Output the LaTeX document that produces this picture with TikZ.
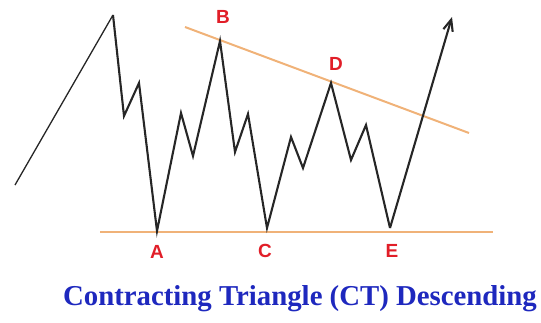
\documentclass[tikz,border=0pt]{standalone}
\usepackage{fontspec}
\setmainfont{Liberation Serif}
\newfontfamily\labelfont{Liberation Sans}
\usetikzlibrary{arrows.meta,positioning,calc}

\definecolor{trendline}{RGB}{240,178,120}
\definecolor{ptred}{RGB}{225,30,40}
\definecolor{titleblue}{RGB}{30,40,190}

\begin{document}
\begin{tikzpicture}[
  x=1pt,y=-1pt,
  wave/.style={draw=black!85,line width=2.1pt,line join=miter},
  trend/.style={draw=trendline,line width=2pt},
  ptlabel/.style={font=\labelfont\bfseries\fontsize{19}{19}\selectfont,text=ptred,inner sep=0pt},
  title/.style={font=\bfseries\fontsize{28.8}{29}\selectfont,text=titleblue,inner sep=0pt}
]
\useasboundingbox (0,0) rectangle (541,322);

% turning points of the pattern
\coordinate (A) at (157,231);
\coordinate (B) at (220,41);
\coordinate (C) at (267,228);
\coordinate (D) at (331,83);
\coordinate (E) at (390,228);

% boundary lines
\coordinate (u1) at (185,27);
\coordinate (u2) at (469,133);
\coordinate (l1) at (100,232);
\coordinate (l2) at (493,232);
\draw[trend] (u1) -- (u2);
\draw[trend] (l1) -- (l2);

% price wave
\coordinate (start) at (15,185);
\coordinate (top) at (113,15);
\coordinate (exit) at (452,17);
\draw[wave,line width=1.3pt] (start) -- (top);
\draw[wave] (top) -- (124,116) -- (139,83) -- (A)
  -- (181,113) -- (193,156) -- (B) -- (235,152) -- (248,114) -- (C)
  -- (291,137) -- (303,168) -- (D) -- (351,160) -- (366,125) -- (E);
\draw[wave,-{Straight Barb[length=4mm,width=3.4mm]}] (E) -- (exit);

% labels
\node[ptlabel] (labA) at (157,252) {A};
\node[ptlabel] (labB) at (223,17) {B};
\node[ptlabel] (labC) at (265,251) {C};
\node[ptlabel] (labD) at (336,64) {D};
\node[ptlabel] (labE) at (392,251) {E};

\node[title] (caption) at (300,299) {Contracting Triangle (CT) Descending};
\end{tikzpicture}
\end{document}
